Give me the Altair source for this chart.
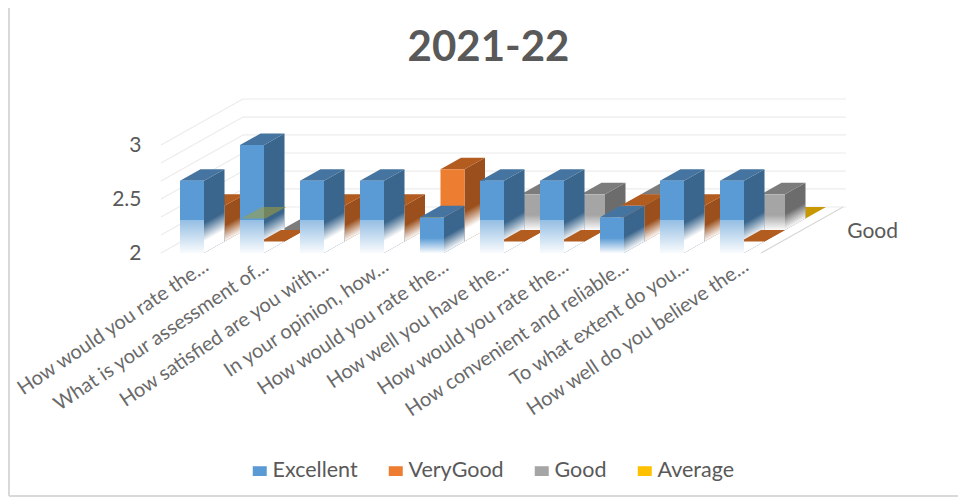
import json
import altair as alt
import pandas as pd

# ---- data ----
categories = [
    "How would you rate the...", "What is your assessment of...", "How satisfied are you with...",
    "In your opinion, how...", "How would you rate the...", "How well you have the...",
    "How would you rate the...", "How convenient and reliable...", "To what extent do you...",
    "How well do you believe the...",
]
series_names = ["Excellent", "VeryGood", "Good", "Average"]
excellent = [2.67, 3.0, 2.67, 2.67, 2.33, 2.67, 2.67, 2.33, 2.67, 2.67]
very_good = [2.33, 2.0, 2.33, 2.33, 2.67, 2.0, 2.0, 2.33, 2.33, 2.0]
good = [2.0, 2.0, 2.0, 2.0, 2.0, 2.33, 2.33, 2.33, 2.0, 2.33]
average = [2.0, 2.0, 2.0, 2.0, 2.0, 2.0, 2.0, 2.0, 2.0, 2.0]
y_ticks = [2, 2.5, 3]
grid_values = [2.0, 2.167, 2.333, 2.5, 2.667, 2.833, 3.0]
depth_label = "Good"

# ---- style ----
front_colors = ["#5b9bd5", "#ed7d31", "#a5a5a5", "#ffc000"]
top_colors = ["#44749f", "#b35c20", "#7c7c7c", "#c79800"]
side_colors = ["#3a658c", "#9a4f1c", "#6c6c6c", "#a07a00"]
TEXT = "#595959"
FONT = "Lato"

# oblique projection, in data units (x: categories, y: value)
PX_X, PX_Y = 60.0, 108.0
DX, DY = 20.5 / PX_X, 11.5 / PX_Y
INSET, BAR = 19 / PX_X, 24 / PX_X
N_ROWS = 4
W, H = 685, 154
x_scale = alt.Scale(domain=[0, W / PX_X], range=[0, W], nice=False, zero=False)
y_scale = alt.Scale(domain=[2, 2 + H / PX_Y], range=[H, 0], nice=False, zero=False)

labels_js = json.dumps(categories)
tick_positions = [i + 0.5 for i in range(len(categories))]
x_axis = alt.Axis(
    values=tick_positions, labelExpr=f"{labels_js}[floor(datum.value)]",
    domain=False, ticks=False, grid=False, labelAngle=-34, labelAlign="right", labelBaseline="middle",
    labelFont=FONT, labelFontSize=20, labelColor="#6a6a6a", labelOffset=15, labelPadding=11,
    labelLimit=400, labelOverlap=False, title=None,
)
y_axis = alt.Axis(
    values=y_ticks, format="~g", domain=False, ticks=False, grid=False,
    labelFont=FONT, labelFontSize=21, labelColor=TEXT, labelPadding=20, labelFlush=False, title=None,
)


def X(field):
    return alt.X(field, scale=x_scale, axis=x_axis)


def Y(field):
    return alt.Y(field, scale=y_scale, axis=y_axis)


all_series = [excellent, very_good, good, average]

fronts, tops, sides = [], [], []
for r, (name, vals) in enumerate(zip(series_names, all_series)):
    for i, v in enumerate(vals):
        x0 = i + INSET + r * DX
        x1 = x0 + BAR
        base = 2 + r * DY
        top = base + (v - 2)
        fronts.append(dict(row=r, series=name, cat=i, v=v, x0=x0, x1=x1, y0=base, y1=top))
        tops.append(dict(row=r, cat=i, v=v, y=top, x=x0, x2=x1))
        tops.append(dict(row=r, cat=i, v=v, y=top + DY, x=x0 + DX, x2=x1 + DX))
        sides.append(dict(row=r, cat=i, v=v, x=x1, y=base, y2=top))
        sides.append(dict(row=r, cat=i, v=v, x=x1 + DX, y=base + DY, y2=top + DY))
fronts, tops, sides = pd.DataFrame(fronts), pd.DataFrame(tops), pd.DataFrame(sides)


def white_fade(stops, **kw):
    return alt.Gradient(
        gradient="linear",
        stops=[alt.GradientStop(color=f"rgba(255,255,255,{a})", offset=o) for o, a in stops],
        **kw,
    )


def side_gradient(px):
    # isolines parallel to the sloping bottom edge of a side face
    h = px / PX_Y
    d = DY / (h + DY)
    s = (1 - d) / (d * d + 1)
    return dict(x1=0, y1=d, x2=s * d, y2=d + s)


layers = []

# walls: grid lines on the back wall and the left wall
back_x0, back_x1 = N_ROWS * DX, W / PX_X
grid_back = pd.DataFrame(dict(y=[g + N_ROWS * DY for g in grid_values], x=back_x0, x2=back_x1))
layers.append(
    alt.Chart(grid_back).mark_rule(color="#ececec", strokeWidth=1.2).encode(x=X("x:Q"), x2="x2:Q", y=Y("y:Q"))
)
grid_left = pd.DataFrame(
    [dict(g=g, x=0, y=g) for g in grid_values] + [dict(g=g, x=back_x0, y=g + N_ROWS * DY) for g in grid_values]
)
layers.append(
    alt.Chart(grid_left).mark_line(color="#ececec", strokeWidth=1.2).encode(x=X("x:Q"), y=Y("y:Q"), detail="g:N")
)
floor_edge = pd.DataFrame(dict(x=[10, 10 + N_ROWS * DX], y=[2, 2 + N_ROWS * DY]))
layers.append(alt.Chart(floor_edge).mark_line(color="#d9d9d9", strokeWidth=1.2).encode(x=X("x:Q"), y=Y("y:Q")))

legend = alt.Legend(
    title=None, orient="none", legendX=88, legendY=361, direction="horizontal", columns=4,
    symbolType="M-1,-0.7H1V0.7H-1Z", symbolSize=196, symbolStrokeWidth=0,
    labelFont=FONT, labelFontSize=21.5, labelColor=TEXT, labelOffset=2, columnPadding=27,
)

for r in range(N_ROWS - 1, -1, -1):
    si = sides[sides.row == r]
    to = tops[tops.row == r]
    fr = fronts[fronts.row == r]
    layers.append(
        alt.Chart(si).mark_area(color=side_colors[r]).encode(x=X("x:Q"), y=Y("y:Q"), y2="y2:Q", detail="cat:N")
    )
    # soft lower edge of the side faces
    for sel, px, stops in (
        (si.v > 2.5, 30, [(0, 0), (0.62, 1), (1, 1)]),
        ((si.v > 2) & (si.v <= 2.5), 16, [(0, 0), (1, 0.97)]),
    ):
        part = si[sel].assign(y2=lambda q: q.y + px / PX_Y)
        if len(part):
            layers.append(
                alt.Chart(part).mark_area(color=white_fade(stops, **side_gradient(px))).encode(
                    x=X("x:Q"), y=Y("y:Q"), y2="y2:Q", detail="cat:N"
                )
            )
    layers.append(
        alt.Chart(to).mark_area(color=top_colors[r], orient="horizontal").encode(
            y=Y("y:Q"), x=X("x:Q"), x2="x2:Q", detail="cat:N"
        )
    )
    if r == 0:
        # flat tiles of the row behind stay visible below the faded side faces
        flat = tops[(tops.row == 1) & (tops.v == 2)]
        layers.append(
            alt.Chart(flat).mark_area(color=top_colors[1], orient="horizontal").encode(
                y=Y("y:Q"), x=X("x:Q"), x2="x2:Q", detail="cat:N"
            )
        )
    layers.append(
        alt.Chart(fr).mark_rect().encode(
            x=X("x0:Q"), x2="x1:Q", y=Y("y0:Q"), y2="y1:Q",
            color=alt.Color("series:N", scale=alt.Scale(domain=series_names, range=front_colors), legend=legend),
        )
    )
    # soft bottom edge of the front faces
    for sel, px, stops in (
        (fr.v > 2.5, 33, [(0, 0.35), (1, 0.97)]),
        ((fr.v > 2) & (fr.v <= 2.5), 15, [(0, 0), (1, 0.97)]),
    ):
        part = fr[sel].assign(m=lambda q: q.y0 + px / PX_Y)
        if len(part):
            layers.append(
                alt.Chart(part).mark_rect(color=white_fade(stops, x1=0, y1=0, x2=0, y2=1)).encode(
                    x=X("x0:Q"), x2="x1:Q", y=Y("y0:Q"), y2="m:Q"
                )
            )

# the first Average tile shows faintly through the tall second bar
ghost = tops[(tops.row == 3) & (tops.cat == 0)]
layers.append(
    alt.Chart(ghost).mark_area(color="#a3a13a", opacity=0.55, orient="horizontal").encode(
        y=Y("y:Q"), x=X("x:Q"), x2="x2:Q", detail="cat:N"
    )
)

# depth-axis label
layers.append(
    alt.Chart(pd.DataFrame(dict(t=[depth_label], x=[W / PX_X + 0.02], y=[2 + 21 / PX_Y]))).mark_text(
        align="left", baseline="middle", font=FONT, fontSize=21, color=TEXT
    ).encode(x=X("x:Q"), y=Y("y:Q"), text="t:N")
)

# chart frame
frame = alt.Chart(pd.DataFrame(dict(a=[0])))
layers.append(frame.mark_rule(color="#d9d9d9", strokeWidth=2).encode(
    x=alt.value(-152), y=alt.value(-91), y2=alt.value(397)))
layers.append(frame.mark_rule(color="#d9d9d9", strokeWidth=2).encode(
    x=alt.value(-152), x2=alt.value(797), y=alt.value(397)))

chart = alt.layer(*layers).properties(
    width=W, height=H,
    title=alt.TitleParams("2021-22", font=FONT, fontSize=42, fontWeight="bold", color=TEXT,
                          anchor="middle", frame="group", dx=-15, offset=-63),
    padding=dict(left=153, top=91, right=112, bottom=244),
    autosize=alt.AutoSizeParams(type="none"),
    background="white",
).configure_view(stroke=None)

chart.save("out.html", embed_options={"renderer": "svg", "actions": False})
